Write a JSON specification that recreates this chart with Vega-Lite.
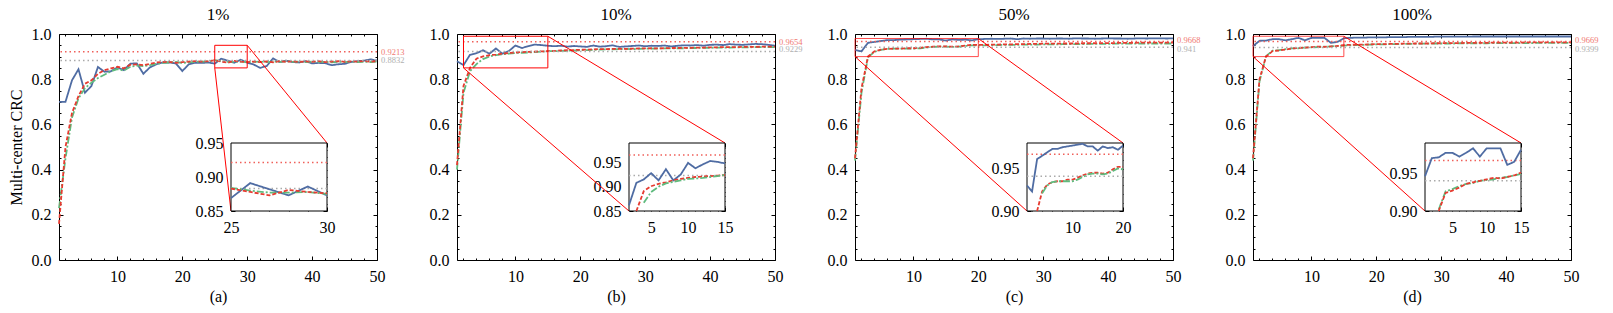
{
"$schema": "https://vega.github.io/schema/vega-lite/v6.json",
"padding": {"left": 7, "top": 5, "right": 4, "bottom": 4},
"spacing": 80,
"bounds": "flush",
"datasets": {
"lines": [
{"p":"a","x":1,"b":0.700,"r":0.160,"g":0.230},{"p":"a","x":2,"b":0.700,"r":0.500,"g":0.450},{"p":"a","x":3,"b":0.795,"r":0.650,"g":0.630},{"p":"a","x":4,"b":0.844,"r":0.725,"g":0.715},{"p":"a","x":5,"b":0.740,"r":0.780,"g":0.760},
{"p":"a","x":6,"b":0.770,"r":0.795,"g":0.785},{"p":"a","x":7,"b":0.854,"r":0.824,"g":0.805},{"p":"a","x":8,"b":0.833,"r":0.840,"g":0.820},{"p":"a","x":9,"b":0.835,"r":0.848,"g":0.835},{"p":"a","x":10,"b":0.852,"r":0.855,"g":0.845},
{"p":"a","x":11,"b":0.840,"r":0.848,"g":0.838},{"p":"a","x":12,"b":0.869,"r":0.864,"g":0.855},{"p":"a","x":13,"b":0.870,"r":0.866,"g":0.860},{"p":"a","x":14,"b":0.824,"r":0.862,"g":0.858},{"p":"a","x":15,"b":0.852,"r":0.868,"g":0.862},
{"p":"a","x":16,"b":0.866,"r":0.874,"g":0.868},{"p":"a","x":17,"b":0.874,"r":0.876,"g":0.872},{"p":"a","x":18,"b":0.874,"r":0.877,"g":0.874},{"p":"a","x":19,"b":0.870,"r":0.872,"g":0.876},{"p":"a","x":20,"b":0.836,"r":0.876,"g":0.872},
{"p":"a","x":21,"b":0.866,"r":0.878,"g":0.874},{"p":"a","x":22,"b":0.873,"r":0.880,"g":0.877},{"p":"a","x":23,"b":0.872,"r":0.878,"g":0.878},{"p":"a","x":24,"b":0.874,"r":0.880,"g":0.879},{"p":"a","x":25,"b":0.869,"r":0.883,"g":0.884},
{"p":"a","x":26,"b":0.891,"r":0.878,"g":0.880},{"p":"a","x":27,"b":0.882,"r":0.873,"g":0.877},{"p":"a","x":28,"b":0.873,"r":0.881,"g":0.877},{"p":"a","x":29,"b":0.886,"r":0.878,"g":0.878},{"p":"a","x":30,"b":0.873,"r":0.876,"g":0.875},
{"p":"a","x":31,"b":0.865,"r":0.878,"g":0.877},{"p":"a","x":32,"b":0.850,"r":0.876,"g":0.878},{"p":"a","x":33,"b":0.858,"r":0.879,"g":0.876},{"p":"a","x":34,"b":0.892,"r":0.875,"g":0.878},{"p":"a","x":35,"b":0.876,"r":0.880,"g":0.877},
{"p":"a","x":36,"b":0.882,"r":0.877,"g":0.879},{"p":"a","x":37,"b":0.876,"r":0.879,"g":0.877},{"p":"a","x":38,"b":0.874,"r":0.876,"g":0.878},{"p":"a","x":39,"b":0.880,"r":0.879,"g":0.876},{"p":"a","x":40,"b":0.870,"r":0.877,"g":0.878},
{"p":"a","x":41,"b":0.872,"r":0.880,"g":0.876},{"p":"a","x":42,"b":0.871,"r":0.876,"g":0.877},{"p":"a","x":43,"b":0.862,"r":0.878,"g":0.875},{"p":"a","x":44,"b":0.866,"r":0.880,"g":0.877},{"p":"a","x":45,"b":0.868,"r":0.877,"g":0.876},
{"p":"a","x":46,"b":0.876,"r":0.879,"g":0.878},{"p":"a","x":47,"b":0.880,"r":0.878,"g":0.876},{"p":"a","x":48,"b":0.882,"r":0.880,"g":0.877},{"p":"a","x":49,"b":0.888,"r":0.878,"g":0.876},{"p":"a","x":50,"b":0.882,"r":0.880,"g":0.878},
{"p":"b","x":1,"b":0.880,"r":0.420,"g":0.400},{"p":"b","x":2,"b":0.862,"r":0.770,"g":0.740},{"p":"b","x":3,"b":0.908,"r":0.850,"g":0.835},{"p":"b","x":4,"b":0.915,"r":0.891,"g":0.867},{"p":"b","x":5,"b":0.928,"r":0.901,"g":0.889},
{"p":"b","x":6,"b":0.913,"r":0.906,"g":0.900},{"p":"b","x":7,"b":0.936,"r":0.909,"g":0.907},{"p":"b","x":8,"b":0.913,"r":0.913,"g":0.910},{"p":"b","x":9,"b":0.925,"r":0.916,"g":0.913},{"p":"b","x":10,"b":0.949,"r":0.918,"g":0.916},
{"p":"b","x":11,"b":0.938,"r":0.920,"g":0.917},{"p":"b","x":12,"b":0.946,"r":0.921,"g":0.918},{"p":"b","x":13,"b":0.953,"r":0.922,"g":0.920},{"p":"b","x":14,"b":0.951,"r":0.923,"g":0.922},{"p":"b","x":15,"b":0.948,"r":0.924,"g":0.924},
{"p":"b","x":16,"b":0.946,"r":0.925,"g":0.924},{"p":"b","x":17,"b":0.948,"r":0.927,"g":0.925},{"p":"b","x":18,"b":0.944,"r":0.928,"g":0.926},{"p":"b","x":19,"b":0.947,"r":0.929,"g":0.927},{"p":"b","x":20,"b":0.945,"r":0.930,"g":0.928},
{"p":"b","x":21,"b":0.943,"r":0.931,"g":0.929},{"p":"b","x":22,"b":0.949,"r":0.932,"g":0.930},{"p":"b","x":23,"b":0.944,"r":0.933,"g":0.931},{"p":"b","x":24,"b":0.946,"r":0.933,"g":0.932},{"p":"b","x":25,"b":0.950,"r":0.934,"g":0.932},
{"p":"b","x":26,"b":0.943,"r":0.935,"g":0.933},{"p":"b","x":27,"b":0.945,"r":0.934,"g":0.934},{"p":"b","x":28,"b":0.947,"r":0.935,"g":0.933},{"p":"b","x":29,"b":0.949,"r":0.936,"g":0.934},{"p":"b","x":30,"b":0.946,"r":0.936,"g":0.935},
{"p":"b","x":31,"b":0.948,"r":0.937,"g":0.935},{"p":"b","x":32,"b":0.947,"r":0.936,"g":0.936},{"p":"b","x":33,"b":0.949,"r":0.937,"g":0.936},{"p":"b","x":34,"b":0.945,"r":0.938,"g":0.936},{"p":"b","x":35,"b":0.948,"r":0.938,"g":0.937},
{"p":"b","x":36,"b":0.950,"r":0.939,"g":0.937},{"p":"b","x":37,"b":0.949,"r":0.939,"g":0.938},{"p":"b","x":38,"b":0.951,"r":0.940,"g":0.938},{"p":"b","x":39,"b":0.948,"r":0.940,"g":0.939},{"p":"b","x":40,"b":0.952,"r":0.941,"g":0.939},
{"p":"b","x":41,"b":0.953,"r":0.941,"g":0.940},{"p":"b","x":42,"b":0.951,"r":0.942,"g":0.940},{"p":"b","x":43,"b":0.955,"r":0.942,"g":0.940},{"p":"b","x":44,"b":0.953,"r":0.942,"g":0.941},{"p":"b","x":45,"b":0.952,"r":0.943,"g":0.941},
{"p":"b","x":46,"b":0.954,"r":0.943,"g":0.941},{"p":"b","x":47,"b":0.956,"r":0.943,"g":0.942},{"p":"b","x":48,"b":0.955,"r":0.944,"g":0.942},{"p":"b","x":49,"b":0.952,"r":0.944,"g":0.942},{"p":"b","x":50,"b":0.948,"r":0.944,"g":0.942},
{"p":"c","x":1,"b":0.930,"r":0.450,"g":0.440},{"p":"c","x":2,"b":0.923,"r":0.760,"g":0.740},{"p":"c","x":3,"b":0.961,"r":0.900,"g":0.897},{"p":"c","x":4,"b":0.965,"r":0.923,"g":0.921},{"p":"c","x":5,"b":0.969,"r":0.931,"g":0.930},
{"p":"c","x":6,"b":0.973,"r":0.934,"g":0.934},{"p":"c","x":7,"b":0.973,"r":0.935,"g":0.935},{"p":"c","x":8,"b":0.975,"r":0.935,"g":0.935},{"p":"c","x":9,"b":0.976,"r":0.937,"g":0.935},{"p":"c","x":10,"b":0.977,"r":0.937,"g":0.935},
{"p":"c","x":11,"b":0.978,"r":0.939,"g":0.937},{"p":"c","x":12,"b":0.979,"r":0.942,"g":0.940},{"p":"c","x":13,"b":0.976,"r":0.944,"g":0.943},{"p":"c","x":14,"b":0.976,"r":0.945,"g":0.944},{"p":"c","x":15,"b":0.971,"r":0.945,"g":0.944},
{"p":"c","x":16,"b":0.976,"r":0.944,"g":0.943},{"p":"c","x":17,"b":0.974,"r":0.945,"g":0.944},{"p":"c","x":18,"b":0.975,"r":0.949,"g":0.947},{"p":"c","x":19,"b":0.972,"r":0.952,"g":0.950},{"p":"c","x":20,"b":0.977,"r":0.952,"g":0.949},
{"p":"c","x":21,"b":0.978,"r":0.952,"g":0.950},{"p":"c","x":22,"b":0.979,"r":0.953,"g":0.951},{"p":"c","x":23,"b":0.978,"r":0.953,"g":0.951},{"p":"c","x":24,"b":0.979,"r":0.954,"g":0.952},{"p":"c","x":25,"b":0.980,"r":0.954,"g":0.952},
{"p":"c","x":26,"b":0.977,"r":0.955,"g":0.952},{"p":"c","x":27,"b":0.980,"r":0.955,"g":0.953},{"p":"c","x":28,"b":0.979,"r":0.956,"g":0.953},{"p":"c","x":29,"b":0.980,"r":0.956,"g":0.953},{"p":"c","x":30,"b":0.980,"r":0.957,"g":0.954},
{"p":"c","x":31,"b":0.979,"r":0.957,"g":0.954},{"p":"c","x":32,"b":0.980,"r":0.957,"g":0.954},{"p":"c","x":33,"b":0.980,"r":0.958,"g":0.955},{"p":"c","x":34,"b":0.979,"r":0.958,"g":0.955},{"p":"c","x":35,"b":0.981,"r":0.958,"g":0.955},
{"p":"c","x":36,"b":0.980,"r":0.959,"g":0.955},{"p":"c","x":37,"b":0.980,"r":0.959,"g":0.956},{"p":"c","x":38,"b":0.979,"r":0.959,"g":0.956},{"p":"c","x":39,"b":0.980,"r":0.960,"g":0.956},{"p":"c","x":40,"b":0.981,"r":0.960,"g":0.956},
{"p":"c","x":41,"b":0.980,"r":0.960,"g":0.957},{"p":"c","x":42,"b":0.980,"r":0.961,"g":0.957},{"p":"c","x":43,"b":0.979,"r":0.961,"g":0.957},{"p":"c","x":44,"b":0.980,"r":0.961,"g":0.957},{"p":"c","x":45,"b":0.981,"r":0.962,"g":0.958},
{"p":"c","x":46,"b":0.980,"r":0.962,"g":0.958},{"p":"c","x":47,"b":0.981,"r":0.962,"g":0.958},{"p":"c","x":48,"b":0.981,"r":0.962,"g":0.958},{"p":"c","x":49,"b":0.980,"r":0.962,"g":0.958},{"p":"c","x":50,"b":0.981,"r":0.962,"g":0.958},
{"p":"d","x":1,"b":0.946,"r":0.450,"g":0.440},{"p":"d","x":2,"b":0.970,"r":0.800,"g":0.790},{"p":"d","x":3,"b":0.971,"r":0.900,"g":0.902},{"p":"d","x":4,"b":0.977,"r":0.924,"g":0.926},{"p":"d","x":5,"b":0.977,"r":0.927,"g":0.929},
{"p":"d","x":6,"b":0.972,"r":0.931,"g":0.933},{"p":"d","x":7,"b":0.977,"r":0.936,"g":0.936},{"p":"d","x":8,"b":0.983,"r":0.938,"g":0.937},{"p":"d","x":9,"b":0.972,"r":0.940,"g":0.940},{"p":"d","x":10,"b":0.983,"r":0.942,"g":0.941},
{"p":"d","x":11,"b":0.983,"r":0.944,"g":0.942},{"p":"d","x":12,"b":0.983,"r":0.943,"g":0.944},{"p":"d","x":13,"b":0.961,"r":0.945,"g":0.945},{"p":"d","x":14,"b":0.965,"r":0.947,"g":0.947},{"p":"d","x":15,"b":0.981,"r":0.951,"g":0.949},
{"p":"d","x":16,"b":0.983,"r":0.952,"g":0.950},{"p":"d","x":17,"b":0.984,"r":0.953,"g":0.951},{"p":"d","x":18,"b":0.984,"r":0.953,"g":0.952},{"p":"d","x":19,"b":0.985,"r":0.954,"g":0.953},{"p":"d","x":20,"b":0.985,"r":0.955,"g":0.954},
{"p":"d","x":21,"b":0.985,"r":0.955,"g":0.954},{"p":"d","x":22,"b":0.986,"r":0.956,"g":0.955},{"p":"d","x":23,"b":0.986,"r":0.956,"g":0.955},{"p":"d","x":24,"b":0.986,"r":0.957,"g":0.956},{"p":"d","x":25,"b":0.987,"r":0.957,"g":0.956},
{"p":"d","x":26,"b":0.987,"r":0.958,"g":0.957},{"p":"d","x":27,"b":0.987,"r":0.958,"g":0.957},{"p":"d","x":28,"b":0.987,"r":0.958,"g":0.957},{"p":"d","x":29,"b":0.988,"r":0.959,"g":0.958},{"p":"d","x":30,"b":0.988,"r":0.959,"g":0.958},
{"p":"d","x":31,"b":0.988,"r":0.960,"g":0.958},{"p":"d","x":32,"b":0.988,"r":0.960,"g":0.958},{"p":"d","x":33,"b":0.988,"r":0.960,"g":0.959},{"p":"d","x":34,"b":0.988,"r":0.961,"g":0.959},{"p":"d","x":35,"b":0.989,"r":0.961,"g":0.959},
{"p":"d","x":36,"b":0.989,"r":0.961,"g":0.959},{"p":"d","x":37,"b":0.989,"r":0.961,"g":0.959},{"p":"d","x":38,"b":0.989,"r":0.962,"g":0.960},{"p":"d","x":39,"b":0.989,"r":0.962,"g":0.960},{"p":"d","x":40,"b":0.989,"r":0.962,"g":0.960},
{"p":"d","x":41,"b":0.989,"r":0.962,"g":0.960},{"p":"d","x":42,"b":0.989,"r":0.962,"g":0.960},{"p":"d","x":43,"b":0.989,"r":0.963,"g":0.960},{"p":"d","x":44,"b":0.989,"r":0.963,"g":0.960},{"p":"d","x":45,"b":0.989,"r":0.963,"g":0.961},
{"p":"d","x":46,"b":0.989,"r":0.963,"g":0.961},{"p":"d","x":47,"b":0.989,"r":0.963,"g":0.961},{"p":"d","x":48,"b":0.989,"r":0.963,"g":0.961},{"p":"d","x":49,"b":0.989,"r":0.963,"g":0.961},{"p":"d","x":50,"b":0.989,"r":0.963,"g":0.961}
],
"refs": [
{"p":"a","k":"r","v":0.9213,"label":"0.9213"},{"p":"a","k":"g","v":0.8832,"label":"0.8832"},
{"p":"b","k":"r","v":0.9654,"label":"0.9654"},{"p":"b","k":"g","v":0.9229,"label":"0.9229"},
{"p":"c","k":"r","v":0.9668,"label":"0.9668"},{"p":"c","k":"g","v":0.941,"label":"0.941"},
{"p":"d","k":"r","v":0.9669,"label":"0.9669"},{"p":"d","k":"g","v":0.9399,"label":"0.9399"}
],
"zoom": [
{"p":"a","x0":25,"x1":30,"y0":0.85,"y1":0.95},
{"p":"b","x0":2,"x1":15,"y0":0.85,"y1":0.99},
{"p":"c","x0":1,"x1":20,"y0":0.9,"y1":0.98},
{"p":"d","x0":1,"x1":15,"y0":0.9,"y1":0.99}
],
"conn": [
{"p":"a","x":30,"y":0.95,"x2":42.3,"y2":0.5177},{"p":"a","x":25,"y":0.85,"x2":27.5,"y2":0.2168},
{"p":"b","x":15,"y":0.99,"x2":42.3,"y2":0.5177},{"p":"b","x":2,"y":0.85,"x2":27.5,"y2":0.2168},
{"p":"c","x":20,"y":0.98,"x2":42.3,"y2":0.5177},{"p":"c","x":1,"y":0.9,"x2":27.5,"y2":0.2168},
{"p":"d","x":15,"y":0.99,"x2":42.3,"y2":0.5177},{"p":"d","x":1,"y":0.9,"x2":27.5,"y2":0.2168}
]
},
"hconcat": [
{
"width": 318, "height": 226, "title": "1%",
"resolve": {"scale": {"x": "independent", "y": "independent"}, "axis": {"x": "independent", "y": "independent"}},
"layer": [
{"layer": [
{"data": {"name": "lines"}, "transform": [{"filter": "datum.p=='a'"}, {"fold": ["b", "g", "r"], "as": ["s", "v"]}],
 "mark": {"type": "line", "strokeWidth": 1.8},
 "encoding": {
  "x": {"field": "x", "type": "quantitative", "scale": {"domain": [1, 50], "nice": false, "zero": false}, "axis": {"orient": "bottom", "values": [10, 20, 30, 40, 50], "format": "d", "tickSize": -4, "labels": true, "labelPadding": 12, "title": "(a)", "titlePadding": 4}},
  "y": {"field": "v", "type": "quantitative", "scale": {"domain": [0, 1], "nice": false, "zero": false}, "axis": {"orient": "left", "values": [0, 0.2, 0.4, 0.6, 0.8, 1], "format": ".1f", "tickSize": -4, "labels": true, "labelPadding": 12, "title": "Multi-center CRC", "titleFontSize": 16, "titlePadding": 7}},
  "color": {"field": "s", "type": "nominal", "scale": {"domain": ["b", "g", "r"], "range": ["#4f6ca3", "#5fbb7e", "#e63b30"]}, "legend": null},
  "strokeDash": {"field": "s", "type": "nominal", "scale": {"domain": ["b", "g", "r"], "range": [[1, 0], [7, 2, 2, 2], [4, 2]]}, "legend": null}}},
{"data": {"name": "refs"}, "transform": [{"filter": "datum.p=='a'"}], "mark": {"type": "rule", "strokeWidth": 1.5, "strokeDash": [1.5, 3]},
 "encoding": {"y": {"field": "v", "type": "quantitative"}, "color": {"condition": {"test": "datum.k=='r'", "value": "#f0605a"}, "value": "#aaaaaa"}}},
{"data": {"name": "refs"}, "transform": [{"filter": "datum.p=='a' && datum.k=='r'"}], "mark": {"type": "text", "align": "left", "baseline": "middle", "dx": 4, "dy": 0, "fontSize": 8.5, "color": "#f07a72"},
 "encoding": {"x": {"datum": 50, "type": "quantitative"}, "y": {"field": "v", "type": "quantitative"}, "text": {"field": "label"}}},
{"data": {"name": "refs"}, "transform": [{"filter": "datum.p=='a' && datum.k=='g'"}], "mark": {"type": "text", "align": "left", "baseline": "middle", "dx": 4, "dy": 0, "fontSize": 8.5, "color": "#b0b0b0"},
 "encoding": {"x": {"datum": 50, "type": "quantitative"}, "y": {"field": "v", "type": "quantitative"}, "text": {"field": "label"}}},
{"data": {"name": "zoom"}, "transform": [{"filter": "datum.p=='a'"}], "mark": {"type": "rect", "fillOpacity": 0, "stroke": "#ff0000", "strokeWidth": 1},
 "encoding": {"x": {"field": "x0", "type": "quantitative"}, "x2": {"field": "x1"}, "y": {"field": "y0", "type": "quantitative"}, "y2": {"field": "y1"}}},
{"data": {"name": "conn"}, "transform": [{"filter": "datum.p=='a'"}], "mark": {"type": "rule", "stroke": "#ff0000", "strokeWidth": 1},
 "encoding": {"x": {"field": "x", "type": "quantitative"}, "y": {"field": "y", "type": "quantitative"}, "x2": {"field": "x2"}, "y2": {"field": "y2"}}}
]},
{"data": {"name": "zoom"}, "transform": [{"filter": "datum.p=='a'"}], "mark": {"type": "point", "opacity": 0},
 "encoding": {"x": {"field": "x0", "type": "quantitative", "scale": {"domain": [1, 50], "nice": false, "zero": false}, "axis": {"orient": "bottom", "values": [2,4,6,8,12,14,16,18,22,24,26,28,32,34,36,38,42,44,46,48], "tickSize": -2, "title": null}},
  "y": {"field": "y0", "type": "quantitative", "scale": {"domain": [0, 1], "nice": false, "zero": false}, "axis": {"orient": "left", "values": [0.05,0.1,0.15,0.25,0.3,0.35,0.45,0.5,0.55,0.65,0.7,0.75,0.85,0.9,0.95], "tickSize": -2, "title": null}}}},
{"data": {"name": "zoom"}, "transform": [{"filter": "datum.p=='a'"}], "mark": {"type": "point", "opacity": 0},
 "encoding": {"x": {"field": "x0", "type": "quantitative", "scale": {"domain": [1, 50], "nice": false, "zero": false}, "axis": {"orient": "top", "values": [10,20,30,40,50], "tickSize": -4, "title": null}},
  "y": {"field": "y0", "type": "quantitative", "scale": {"domain": [0, 1], "nice": false, "zero": false}, "axis": {"orient": "right", "values": [0,0.2,0.4,0.6,0.8,1], "tickSize": -4, "title": null}}}},
{"data": {"name": "zoom"}, "transform": [{"filter": "datum.p=='a'"}], "mark": {"type": "point", "opacity": 0},
 "encoding": {"x": {"field": "x0", "type": "quantitative", "scale": {"domain": [1, 50], "nice": false, "zero": false}, "axis": {"orient": "top", "values": [2,4,6,8,12,14,16,18,22,24,26,28,32,34,36,38,42,44,46,48], "tickSize": -2, "title": null}},
  "y": {"field": "y0", "type": "quantitative", "scale": {"domain": [0, 1], "nice": false, "zero": false}, "axis": {"orient": "right", "values": [0.05,0.1,0.15,0.25,0.3,0.35,0.45,0.5,0.55,0.65,0.7,0.75,0.85,0.9,0.95], "tickSize": -2, "title": null}}}},
{"layer": [
{"data": {"name": "zoom"}, "transform": [{"filter": "datum.p=='a'"}], "mark": {"type": "rect", "fill": "white", "stroke": "black", "strokeWidth": 1},
 "encoding": {"x": {"field": "x0", "type": "quantitative", "scale": {"domain": [25, 30], "range": [172, 268], "nice": false, "zero": false}, "axis": {"orient": "bottom", "offset": -49, "values": [25, 30], "format": "d", "tickSize": -4, "labels": true, "labelPadding": 12, "title": null}},
  "x2": {"field": "x1"},
  "y": {"field": "y0", "type": "quantitative", "scale": {"domain": [0.85, 0.95], "range": [177, 109], "nice": false, "zero": false}, "axis": {"orient": "left", "offset": -172, "values": [0.85, 0.9, 0.95], "format": ".2f", "tickSize": -4, "labels": true, "labelPadding": 12, "title": null}},
  "y2": {"field": "y1"}}},
{"data": {"name": "refs"}, "transform": [{"filter": "datum.p=='a'"}], "mark": {"type": "rule", "strokeWidth": 1.5, "strokeDash": [1.5, 3]},
 "encoding": {"x": {"datum": 25, "type": "quantitative"}, "x2": {"datum": 30}, "y": {"field": "v", "type": "quantitative"}, "color": {"condition": {"test": "datum.k=='r'", "value": "#f0605a"}, "value": "#aaaaaa"}}},
{"data": {"name": "lines"}, "transform": [{"filter": "datum.p=='a'"}, {"fold": ["b", "g", "r"], "as": ["s", "v"]}, {"filter": "datum.x>=25 && datum.x<=30 && datum.v>=0.85 && datum.v<=0.95"}],
 "mark": {"type": "line", "strokeWidth": 1.8},
 "encoding": {"x": {"field": "x", "type": "quantitative"}, "y": {"field": "v", "type": "quantitative"},
  "color": {"field": "s", "type": "nominal", "legend": null}, "strokeDash": {"field": "s", "type": "nominal", "legend": null}}}
]},
{"data": {"name": "zoom"}, "transform": [{"filter": "datum.p=='a'"}], "mark": {"type": "point", "opacity": 0},
 "encoding": {"x": {"field": "x0", "type": "quantitative", "scale": {"domain": [25, 30], "range": [172, 268], "nice": false, "zero": false}, "axis": {"orient": "bottom", "offset": -49, "values": [26,27,28,29], "tickSize": -2, "title": null}},
  "y": {"field": "y0", "type": "quantitative", "scale": {"domain": [0.85, 0.95], "range": [177, 109], "nice": false, "zero": false}, "axis": {"orient": "left", "offset": -172, "values": [0.86,0.87,0.88,0.89,0.91,0.92,0.93,0.94], "tickSize": -2, "title": null}}}},
{"data": {"name": "zoom"}, "transform": [{"filter": "datum.p=='a'"}], "mark": {"type": "point", "opacity": 0},
 "encoding": {"x": {"field": "x0", "type": "quantitative", "scale": {"domain": [25, 30], "range": [172, 268], "nice": false, "zero": false}, "axis": {"orient": "top", "offset": -109, "values": [25,30], "tickSize": -4, "title": null}},
  "y": {"field": "y0", "type": "quantitative", "scale": {"domain": [0.85, 0.95], "range": [177, 109], "nice": false, "zero": false}, "axis": {"orient": "right", "offset": -50, "values": [0.85,0.9,0.95], "tickSize": -4, "title": null}}}},
{"data": {"name": "zoom"}, "transform": [{"filter": "datum.p=='a'"}], "mark": {"type": "point", "opacity": 0},
 "encoding": {"x": {"field": "x0", "type": "quantitative", "scale": {"domain": [25, 30], "range": [172, 268], "nice": false, "zero": false}, "axis": {"orient": "top", "offset": -109, "values": [26,27,28,29], "tickSize": -2, "title": null}},
  "y": {"field": "y0", "type": "quantitative", "scale": {"domain": [0.85, 0.95], "range": [177, 109], "nice": false, "zero": false}, "axis": {"orient": "right", "offset": -50, "values": [0.86,0.87,0.88,0.89,0.91,0.92,0.93,0.94], "tickSize": -2, "title": null}}}}
]
},
{
"width": 318, "height": 226, "title": "10%",
"resolve": {"scale": {"x": "independent", "y": "independent"}, "axis": {"x": "independent", "y": "independent"}},
"layer": [
{"layer": [
{"data": {"name": "lines"}, "transform": [{"filter": "datum.p=='b'"}, {"fold": ["b", "g", "r"], "as": ["s", "v"]}],
 "mark": {"type": "line", "strokeWidth": 1.8},
 "encoding": {
  "x": {"field": "x", "type": "quantitative", "scale": {"domain": [1, 50], "nice": false, "zero": false}, "axis": {"orient": "bottom", "values": [10, 20, 30, 40, 50], "format": "d", "tickSize": -4, "labels": true, "labelPadding": 12, "title": "(b)", "titlePadding": 4}},
  "y": {"field": "v", "type": "quantitative", "scale": {"domain": [0, 1], "nice": false, "zero": false}, "axis": {"orient": "left", "values": [0, 0.2, 0.4, 0.6, 0.8, 1], "format": ".1f", "tickSize": -4, "labels": true, "labelPadding": 12, "title": null}},
  "color": {"field": "s", "type": "nominal", "legend": null},
  "strokeDash": {"field": "s", "type": "nominal", "legend": null}}},
{"data": {"name": "refs"}, "transform": [{"filter": "datum.p=='b'"}], "mark": {"type": "rule", "strokeWidth": 1.5, "strokeDash": [1.5, 3]},
 "encoding": {"y": {"field": "v", "type": "quantitative"}, "color": {"condition": {"test": "datum.k=='r'", "value": "#f0605a"}, "value": "#aaaaaa"}}},
{"data": {"name": "refs"}, "transform": [{"filter": "datum.p=='b' && datum.k=='r'"}], "mark": {"type": "text", "align": "left", "baseline": "middle", "dx": 4, "dy": 0, "fontSize": 8.5, "color": "#f07a72"},
 "encoding": {"x": {"datum": 50, "type": "quantitative"}, "y": {"field": "v", "type": "quantitative"}, "text": {"field": "label"}}},
{"data": {"name": "refs"}, "transform": [{"filter": "datum.p=='b' && datum.k=='g'"}], "mark": {"type": "text", "align": "left", "baseline": "middle", "dx": 4, "dy": -2, "fontSize": 8.5, "color": "#b0b0b0"},
 "encoding": {"x": {"datum": 50, "type": "quantitative"}, "y": {"field": "v", "type": "quantitative"}, "text": {"field": "label"}}},
{"data": {"name": "zoom"}, "transform": [{"filter": "datum.p=='b'"}], "mark": {"type": "rect", "fillOpacity": 0, "stroke": "#ff0000", "strokeWidth": 1},
 "encoding": {"x": {"field": "x0", "type": "quantitative"}, "x2": {"field": "x1"}, "y": {"field": "y0", "type": "quantitative"}, "y2": {"field": "y1"}}},
{"data": {"name": "conn"}, "transform": [{"filter": "datum.p=='b'"}], "mark": {"type": "rule", "stroke": "#ff0000", "strokeWidth": 1},
 "encoding": {"x": {"field": "x", "type": "quantitative"}, "y": {"field": "y", "type": "quantitative"}, "x2": {"field": "x2"}, "y2": {"field": "y2"}}}
]},
{"data": {"name": "zoom"}, "transform": [{"filter": "datum.p=='b'"}], "mark": {"type": "point", "opacity": 0},
 "encoding": {"x": {"field": "x0", "type": "quantitative", "scale": {"domain": [1, 50], "nice": false, "zero": false}, "axis": {"orient": "bottom", "values": [2,4,6,8,12,14,16,18,22,24,26,28,32,34,36,38,42,44,46,48], "tickSize": -2, "title": null}},
  "y": {"field": "y0", "type": "quantitative", "scale": {"domain": [0, 1], "nice": false, "zero": false}, "axis": {"orient": "left", "values": [0.05,0.1,0.15,0.25,0.3,0.35,0.45,0.5,0.55,0.65,0.7,0.75,0.85,0.9,0.95], "tickSize": -2, "title": null}}}},
{"data": {"name": "zoom"}, "transform": [{"filter": "datum.p=='b'"}], "mark": {"type": "point", "opacity": 0},
 "encoding": {"x": {"field": "x0", "type": "quantitative", "scale": {"domain": [1, 50], "nice": false, "zero": false}, "axis": {"orient": "top", "values": [10,20,30,40,50], "tickSize": -4, "title": null}},
  "y": {"field": "y0", "type": "quantitative", "scale": {"domain": [0, 1], "nice": false, "zero": false}, "axis": {"orient": "right", "values": [0,0.2,0.4,0.6,0.8,1], "tickSize": -4, "title": null}}}},
{"data": {"name": "zoom"}, "transform": [{"filter": "datum.p=='b'"}], "mark": {"type": "point", "opacity": 0},
 "encoding": {"x": {"field": "x0", "type": "quantitative", "scale": {"domain": [1, 50], "nice": false, "zero": false}, "axis": {"orient": "top", "values": [2,4,6,8,12,14,16,18,22,24,26,28,32,34,36,38,42,44,46,48], "tickSize": -2, "title": null}},
  "y": {"field": "y0", "type": "quantitative", "scale": {"domain": [0, 1], "nice": false, "zero": false}, "axis": {"orient": "right", "values": [0.05,0.1,0.15,0.25,0.3,0.35,0.45,0.5,0.55,0.65,0.7,0.75,0.85,0.9,0.95], "tickSize": -2, "title": null}}}},
{"layer": [
{"data": {"name": "zoom"}, "transform": [{"filter": "datum.p=='b'"}], "mark": {"type": "rect", "fill": "white", "stroke": "black", "strokeWidth": 1},
 "encoding": {"x": {"field": "x0", "type": "quantitative", "scale": {"domain": [2, 15], "range": [172, 268], "nice": false, "zero": false}, "axis": {"orient": "bottom", "offset": -49, "values": [5, 10, 15], "format": "d", "tickSize": -4, "labels": true, "labelPadding": 12, "title": null}},
  "x2": {"field": "x1"},
  "y": {"field": "y0", "type": "quantitative", "scale": {"domain": [0.85, 0.99], "range": [177, 109], "nice": false, "zero": false}, "axis": {"orient": "left", "offset": -172, "values": [0.85, 0.9, 0.95], "format": ".2f", "tickSize": -4, "labels": true, "labelPadding": 12, "title": null}},
  "y2": {"field": "y1"}}},
{"data": {"name": "refs"}, "transform": [{"filter": "datum.p=='b'"}], "mark": {"type": "rule", "strokeWidth": 1.5, "strokeDash": [1.5, 3]},
 "encoding": {"x": {"datum": 2, "type": "quantitative"}, "x2": {"datum": 15}, "y": {"field": "v", "type": "quantitative"}, "color": {"condition": {"test": "datum.k=='r'", "value": "#f0605a"}, "value": "#aaaaaa"}}},
{"data": {"name": "lines"}, "transform": [{"filter": "datum.p=='b'"}, {"fold": ["b", "g", "r"], "as": ["s", "v"]}, {"filter": "datum.x>=2 && datum.x<=15 && datum.v>=0.85 && datum.v<=0.99"}],
 "mark": {"type": "line", "strokeWidth": 1.8},
 "encoding": {"x": {"field": "x", "type": "quantitative"}, "y": {"field": "v", "type": "quantitative"},
  "color": {"field": "s", "type": "nominal", "legend": null}, "strokeDash": {"field": "s", "type": "nominal", "legend": null}}}
]},
{"data": {"name": "zoom"}, "transform": [{"filter": "datum.p=='b'"}], "mark": {"type": "point", "opacity": 0},
 "encoding": {"x": {"field": "x0", "type": "quantitative", "scale": {"domain": [2, 15], "range": [172, 268], "nice": false, "zero": false}, "axis": {"orient": "bottom", "offset": -49, "values": [3,4,6,7,8,9,11,12,13,14], "tickSize": -2, "title": null}},
  "y": {"field": "y0", "type": "quantitative", "scale": {"domain": [0.85, 0.99], "range": [177, 109], "nice": false, "zero": false}, "axis": {"orient": "left", "offset": -172, "values": [0.86,0.87,0.88,0.89,0.91,0.92,0.93,0.94,0.96,0.97,0.98], "tickSize": -2, "title": null}}}},
{"data": {"name": "zoom"}, "transform": [{"filter": "datum.p=='b'"}], "mark": {"type": "point", "opacity": 0},
 "encoding": {"x": {"field": "x0", "type": "quantitative", "scale": {"domain": [2, 15], "range": [172, 268], "nice": false, "zero": false}, "axis": {"orient": "top", "offset": -109, "values": [5,10,15], "tickSize": -4, "title": null}},
  "y": {"field": "y0", "type": "quantitative", "scale": {"domain": [0.85, 0.99], "range": [177, 109], "nice": false, "zero": false}, "axis": {"orient": "right", "offset": -50, "values": [0.85,0.9,0.95], "tickSize": -4, "title": null}}}},
{"data": {"name": "zoom"}, "transform": [{"filter": "datum.p=='b'"}], "mark": {"type": "point", "opacity": 0},
 "encoding": {"x": {"field": "x0", "type": "quantitative", "scale": {"domain": [2, 15], "range": [172, 268], "nice": false, "zero": false}, "axis": {"orient": "top", "offset": -109, "values": [3,4,6,7,8,9,11,12,13,14], "tickSize": -2, "title": null}},
  "y": {"field": "y0", "type": "quantitative", "scale": {"domain": [0.85, 0.99], "range": [177, 109], "nice": false, "zero": false}, "axis": {"orient": "right", "offset": -50, "values": [0.86,0.87,0.88,0.89,0.91,0.92,0.93,0.94,0.96,0.97,0.98], "tickSize": -2, "title": null}}}}
]
},
{
"width": 318, "height": 226, "title": "50%",
"resolve": {"scale": {"x": "independent", "y": "independent"}, "axis": {"x": "independent", "y": "independent"}},
"layer": [
{"layer": [
{"data": {"name": "lines"}, "transform": [{"filter": "datum.p=='c'"}, {"fold": ["b", "g", "r"], "as": ["s", "v"]}],
 "mark": {"type": "line", "strokeWidth": 1.8},
 "encoding": {
  "x": {"field": "x", "type": "quantitative", "scale": {"domain": [1, 50], "nice": false, "zero": false}, "axis": {"orient": "bottom", "values": [10, 20, 30, 40, 50], "format": "d", "tickSize": -4, "labels": true, "labelPadding": 12, "title": "(c)", "titlePadding": 4}},
  "y": {"field": "v", "type": "quantitative", "scale": {"domain": [0, 1], "nice": false, "zero": false}, "axis": {"orient": "left", "values": [0, 0.2, 0.4, 0.6, 0.8, 1], "format": ".1f", "tickSize": -4, "labels": true, "labelPadding": 12, "title": null}},
  "color": {"field": "s", "type": "nominal", "legend": null},
  "strokeDash": {"field": "s", "type": "nominal", "legend": null}}},
{"data": {"name": "refs"}, "transform": [{"filter": "datum.p=='c'"}], "mark": {"type": "rule", "strokeWidth": 1.5, "strokeDash": [1.5, 3]},
 "encoding": {"y": {"field": "v", "type": "quantitative"}, "color": {"condition": {"test": "datum.k=='r'", "value": "#f0605a"}, "value": "#aaaaaa"}}},
{"data": {"name": "refs"}, "transform": [{"filter": "datum.p=='c' && datum.k=='r'"}], "mark": {"type": "text", "align": "left", "baseline": "middle", "dx": 4, "dy": -1.5, "fontSize": 8.5, "color": "#f07a72"},
 "encoding": {"x": {"datum": 50, "type": "quantitative"}, "y": {"field": "v", "type": "quantitative"}, "text": {"field": "label"}}},
{"data": {"name": "refs"}, "transform": [{"filter": "datum.p=='c' && datum.k=='g'"}], "mark": {"type": "text", "align": "left", "baseline": "middle", "dx": 4, "dy": 1.5, "fontSize": 8.5, "color": "#b0b0b0"},
 "encoding": {"x": {"datum": 50, "type": "quantitative"}, "y": {"field": "v", "type": "quantitative"}, "text": {"field": "label"}}},
{"data": {"name": "zoom"}, "transform": [{"filter": "datum.p=='c'"}], "mark": {"type": "rect", "fillOpacity": 0, "stroke": "#ff0000", "strokeOpacity": 0.7, "strokeWidth": 1},
 "encoding": {"x": {"field": "x0", "type": "quantitative"}, "x2": {"field": "x1"}, "y": {"field": "y0", "type": "quantitative"}, "y2": {"field": "y1"}}},
{"data": {"name": "conn"}, "transform": [{"filter": "datum.p=='c'"}], "mark": {"type": "rule", "stroke": "#ff0000", "strokeWidth": 1},
 "encoding": {"x": {"field": "x", "type": "quantitative"}, "y": {"field": "y", "type": "quantitative"}, "x2": {"field": "x2"}, "y2": {"field": "y2"}}}
]},
{"data": {"name": "zoom"}, "transform": [{"filter": "datum.p=='c'"}], "mark": {"type": "point", "opacity": 0},
 "encoding": {"x": {"field": "x0", "type": "quantitative", "scale": {"domain": [1, 50], "nice": false, "zero": false}, "axis": {"orient": "bottom", "values": [2,4,6,8,12,14,16,18,22,24,26,28,32,34,36,38,42,44,46,48], "tickSize": -2, "title": null}},
  "y": {"field": "y0", "type": "quantitative", "scale": {"domain": [0, 1], "nice": false, "zero": false}, "axis": {"orient": "left", "values": [0.05,0.1,0.15,0.25,0.3,0.35,0.45,0.5,0.55,0.65,0.7,0.75,0.85,0.9,0.95], "tickSize": -2, "title": null}}}},
{"data": {"name": "zoom"}, "transform": [{"filter": "datum.p=='c'"}], "mark": {"type": "point", "opacity": 0},
 "encoding": {"x": {"field": "x0", "type": "quantitative", "scale": {"domain": [1, 50], "nice": false, "zero": false}, "axis": {"orient": "top", "values": [10,20,30,40,50], "tickSize": -4, "title": null}},
  "y": {"field": "y0", "type": "quantitative", "scale": {"domain": [0, 1], "nice": false, "zero": false}, "axis": {"orient": "right", "values": [0,0.2,0.4,0.6,0.8,1], "tickSize": -4, "title": null}}}},
{"data": {"name": "zoom"}, "transform": [{"filter": "datum.p=='c'"}], "mark": {"type": "point", "opacity": 0},
 "encoding": {"x": {"field": "x0", "type": "quantitative", "scale": {"domain": [1, 50], "nice": false, "zero": false}, "axis": {"orient": "top", "values": [2,4,6,8,12,14,16,18,22,24,26,28,32,34,36,38,42,44,46,48], "tickSize": -2, "title": null}},
  "y": {"field": "y0", "type": "quantitative", "scale": {"domain": [0, 1], "nice": false, "zero": false}, "axis": {"orient": "right", "values": [0.05,0.1,0.15,0.25,0.3,0.35,0.45,0.5,0.55,0.65,0.7,0.75,0.85,0.9,0.95], "tickSize": -2, "title": null}}}},
{"layer": [
{"data": {"name": "zoom"}, "transform": [{"filter": "datum.p=='c'"}], "mark": {"type": "rect", "fill": "white", "stroke": "black", "strokeWidth": 1},
 "encoding": {"x": {"field": "x0", "type": "quantitative", "scale": {"domain": [1, 20], "range": [172, 268], "nice": false, "zero": false}, "axis": {"orient": "bottom", "offset": -49, "values": [10, 20], "format": "d", "tickSize": -4, "labels": true, "labelPadding": 12, "title": null}},
  "x2": {"field": "x1"},
  "y": {"field": "y0", "type": "quantitative", "scale": {"domain": [0.9, 0.98], "range": [177, 109], "nice": false, "zero": false}, "axis": {"orient": "left", "offset": -172, "values": [0.9, 0.95], "format": ".2f", "tickSize": -4, "labels": true, "labelPadding": 12, "title": null}},
  "y2": {"field": "y1"}}},
{"data": {"name": "refs"}, "transform": [{"filter": "datum.p=='c'"}], "mark": {"type": "rule", "strokeWidth": 1.5, "strokeDash": [1.5, 3]},
 "encoding": {"x": {"datum": 1, "type": "quantitative"}, "x2": {"datum": 20}, "y": {"field": "v", "type": "quantitative"}, "color": {"condition": {"test": "datum.k=='r'", "value": "#f0605a"}, "value": "#aaaaaa"}}},
{"data": {"name": "lines"}, "transform": [{"filter": "datum.p=='c'"}, {"fold": ["b", "g", "r"], "as": ["s", "v"]}, {"filter": "datum.x>=1 && datum.x<=20 && datum.v>=0.9 && datum.v<=0.98"}],
 "mark": {"type": "line", "strokeWidth": 1.8},
 "encoding": {"x": {"field": "x", "type": "quantitative"}, "y": {"field": "v", "type": "quantitative"},
  "color": {"field": "s", "type": "nominal", "legend": null}, "strokeDash": {"field": "s", "type": "nominal", "legend": null}}}
]},
{"data": {"name": "zoom"}, "transform": [{"filter": "datum.p=='c'"}], "mark": {"type": "point", "opacity": 0},
 "encoding": {"x": {"field": "x0", "type": "quantitative", "scale": {"domain": [1, 20], "range": [172, 268], "nice": false, "zero": false}, "axis": {"orient": "bottom", "offset": -49, "values": [2,4,6,8,12,14,16,18], "tickSize": -2, "title": null}},
  "y": {"field": "y0", "type": "quantitative", "scale": {"domain": [0.9, 0.98], "range": [177, 109], "nice": false, "zero": false}, "axis": {"orient": "left", "offset": -172, "values": [0.91,0.92,0.93,0.94,0.96,0.97], "tickSize": -2, "title": null}}}},
{"data": {"name": "zoom"}, "transform": [{"filter": "datum.p=='c'"}], "mark": {"type": "point", "opacity": 0},
 "encoding": {"x": {"field": "x0", "type": "quantitative", "scale": {"domain": [1, 20], "range": [172, 268], "nice": false, "zero": false}, "axis": {"orient": "top", "offset": -109, "values": [10,20], "tickSize": -4, "title": null}},
  "y": {"field": "y0", "type": "quantitative", "scale": {"domain": [0.9, 0.98], "range": [177, 109], "nice": false, "zero": false}, "axis": {"orient": "right", "offset": -50, "values": [0.9,0.95], "tickSize": -4, "title": null}}}},
{"data": {"name": "zoom"}, "transform": [{"filter": "datum.p=='c'"}], "mark": {"type": "point", "opacity": 0},
 "encoding": {"x": {"field": "x0", "type": "quantitative", "scale": {"domain": [1, 20], "range": [172, 268], "nice": false, "zero": false}, "axis": {"orient": "top", "offset": -109, "values": [2,4,6,8,12,14,16,18], "tickSize": -2, "title": null}},
  "y": {"field": "y0", "type": "quantitative", "scale": {"domain": [0.9, 0.98], "range": [177, 109], "nice": false, "zero": false}, "axis": {"orient": "right", "offset": -50, "values": [0.91,0.92,0.93,0.94,0.96,0.97], "tickSize": -2, "title": null}}}}
]
},
{
"width": 318, "height": 226, "title": "100%",
"resolve": {"scale": {"x": "independent", "y": "independent"}, "axis": {"x": "independent", "y": "independent"}},
"layer": [
{"layer": [
{"data": {"name": "lines"}, "transform": [{"filter": "datum.p=='d'"}, {"fold": ["b", "g", "r"], "as": ["s", "v"]}],
 "mark": {"type": "line", "strokeWidth": 1.8},
 "encoding": {
  "x": {"field": "x", "type": "quantitative", "scale": {"domain": [1, 50], "nice": false, "zero": false}, "axis": {"orient": "bottom", "values": [10, 20, 30, 40, 50], "format": "d", "tickSize": -4, "labels": true, "labelPadding": 12, "title": "(d)", "titlePadding": 4}},
  "y": {"field": "v", "type": "quantitative", "scale": {"domain": [0, 1], "nice": false, "zero": false}, "axis": {"orient": "left", "values": [0, 0.2, 0.4, 0.6, 0.8, 1], "format": ".1f", "tickSize": -4, "labels": true, "labelPadding": 12, "title": null}},
  "color": {"field": "s", "type": "nominal", "legend": null},
  "strokeDash": {"field": "s", "type": "nominal", "legend": null}}},
{"data": {"name": "refs"}, "transform": [{"filter": "datum.p=='d'"}], "mark": {"type": "rule", "strokeWidth": 1.5, "strokeDash": [1.5, 3]},
 "encoding": {"y": {"field": "v", "type": "quantitative"}, "color": {"condition": {"test": "datum.k=='r'", "value": "#f0605a"}, "value": "#aaaaaa"}}},
{"data": {"name": "refs"}, "transform": [{"filter": "datum.p=='d' && datum.k=='r'"}], "mark": {"type": "text", "align": "left", "baseline": "middle", "dx": 4, "dy": -1.5, "fontSize": 8.5, "color": "#f07a72"},
 "encoding": {"x": {"datum": 50, "type": "quantitative"}, "y": {"field": "v", "type": "quantitative"}, "text": {"field": "label"}}},
{"data": {"name": "refs"}, "transform": [{"filter": "datum.p=='d' && datum.k=='g'"}], "mark": {"type": "text", "align": "left", "baseline": "middle", "dx": 4, "dy": 1.5, "fontSize": 8.5, "color": "#b0b0b0"},
 "encoding": {"x": {"datum": 50, "type": "quantitative"}, "y": {"field": "v", "type": "quantitative"}, "text": {"field": "label"}}},
{"data": {"name": "zoom"}, "transform": [{"filter": "datum.p=='d'"}], "mark": {"type": "rect", "fillOpacity": 0, "stroke": "#ff0000", "strokeOpacity": 0.7, "strokeWidth": 1},
 "encoding": {"x": {"field": "x0", "type": "quantitative"}, "x2": {"field": "x1"}, "y": {"field": "y0", "type": "quantitative"}, "y2": {"field": "y1"}}},
{"data": {"name": "conn"}, "transform": [{"filter": "datum.p=='d'"}], "mark": {"type": "rule", "stroke": "#ff0000", "strokeWidth": 1},
 "encoding": {"x": {"field": "x", "type": "quantitative"}, "y": {"field": "y", "type": "quantitative"}, "x2": {"field": "x2"}, "y2": {"field": "y2"}}}
]},
{"data": {"name": "zoom"}, "transform": [{"filter": "datum.p=='d'"}], "mark": {"type": "point", "opacity": 0},
 "encoding": {"x": {"field": "x0", "type": "quantitative", "scale": {"domain": [1, 50], "nice": false, "zero": false}, "axis": {"orient": "bottom", "values": [2,4,6,8,12,14,16,18,22,24,26,28,32,34,36,38,42,44,46,48], "tickSize": -2, "title": null}},
  "y": {"field": "y0", "type": "quantitative", "scale": {"domain": [0, 1], "nice": false, "zero": false}, "axis": {"orient": "left", "values": [0.05,0.1,0.15,0.25,0.3,0.35,0.45,0.5,0.55,0.65,0.7,0.75,0.85,0.9,0.95], "tickSize": -2, "title": null}}}},
{"data": {"name": "zoom"}, "transform": [{"filter": "datum.p=='d'"}], "mark": {"type": "point", "opacity": 0},
 "encoding": {"x": {"field": "x0", "type": "quantitative", "scale": {"domain": [1, 50], "nice": false, "zero": false}, "axis": {"orient": "top", "values": [10,20,30,40,50], "tickSize": -4, "title": null}},
  "y": {"field": "y0", "type": "quantitative", "scale": {"domain": [0, 1], "nice": false, "zero": false}, "axis": {"orient": "right", "values": [0,0.2,0.4,0.6,0.8,1], "tickSize": -4, "title": null}}}},
{"data": {"name": "zoom"}, "transform": [{"filter": "datum.p=='d'"}], "mark": {"type": "point", "opacity": 0},
 "encoding": {"x": {"field": "x0", "type": "quantitative", "scale": {"domain": [1, 50], "nice": false, "zero": false}, "axis": {"orient": "top", "values": [2,4,6,8,12,14,16,18,22,24,26,28,32,34,36,38,42,44,46,48], "tickSize": -2, "title": null}},
  "y": {"field": "y0", "type": "quantitative", "scale": {"domain": [0, 1], "nice": false, "zero": false}, "axis": {"orient": "right", "values": [0.05,0.1,0.15,0.25,0.3,0.35,0.45,0.5,0.55,0.65,0.7,0.75,0.85,0.9,0.95], "tickSize": -2, "title": null}}}},
{"layer": [
{"data": {"name": "zoom"}, "transform": [{"filter": "datum.p=='d'"}], "mark": {"type": "rect", "fill": "white", "stroke": "black", "strokeWidth": 1},
 "encoding": {"x": {"field": "x0", "type": "quantitative", "scale": {"domain": [1, 15], "range": [172, 268], "nice": false, "zero": false}, "axis": {"orient": "bottom", "offset": -49, "values": [5, 10, 15], "format": "d", "tickSize": -4, "labels": true, "labelPadding": 12, "title": null}},
  "x2": {"field": "x1"},
  "y": {"field": "y0", "type": "quantitative", "scale": {"domain": [0.9, 0.99], "range": [177, 109], "nice": false, "zero": false}, "axis": {"orient": "left", "offset": -172, "values": [0.9, 0.95], "format": ".2f", "tickSize": -4, "labels": true, "labelPadding": 12, "title": null}},
  "y2": {"field": "y1"}}},
{"data": {"name": "refs"}, "transform": [{"filter": "datum.p=='d'"}], "mark": {"type": "rule", "strokeWidth": 1.5, "strokeDash": [1.5, 3]},
 "encoding": {"x": {"datum": 1, "type": "quantitative"}, "x2": {"datum": 15}, "y": {"field": "v", "type": "quantitative"}, "color": {"condition": {"test": "datum.k=='r'", "value": "#f0605a"}, "value": "#aaaaaa"}}},
{"data": {"name": "lines"}, "transform": [{"filter": "datum.p=='d'"}, {"fold": ["b", "g", "r"], "as": ["s", "v"]}, {"filter": "datum.x>=1 && datum.x<=15 && datum.v>=0.9 && datum.v<=0.99"}],
 "mark": {"type": "line", "strokeWidth": 1.8},
 "encoding": {"x": {"field": "x", "type": "quantitative"}, "y": {"field": "v", "type": "quantitative"},
  "color": {"field": "s", "type": "nominal", "legend": null}, "strokeDash": {"field": "s", "type": "nominal", "legend": null}}}
]},
{"data": {"name": "zoom"}, "transform": [{"filter": "datum.p=='d'"}], "mark": {"type": "point", "opacity": 0},
 "encoding": {"x": {"field": "x0", "type": "quantitative", "scale": {"domain": [1, 15], "range": [172, 268], "nice": false, "zero": false}, "axis": {"orient": "bottom", "offset": -49, "values": [2,3,4,6,7,8,9,11,12,13,14], "tickSize": -2, "title": null}},
  "y": {"field": "y0", "type": "quantitative", "scale": {"domain": [0.9, 0.99], "range": [177, 109], "nice": false, "zero": false}, "axis": {"orient": "left", "offset": -172, "values": [0.91,0.92,0.93,0.94,0.96,0.97,0.98], "tickSize": -2, "title": null}}}},
{"data": {"name": "zoom"}, "transform": [{"filter": "datum.p=='d'"}], "mark": {"type": "point", "opacity": 0},
 "encoding": {"x": {"field": "x0", "type": "quantitative", "scale": {"domain": [1, 15], "range": [172, 268], "nice": false, "zero": false}, "axis": {"orient": "top", "offset": -109, "values": [5,10,15], "tickSize": -4, "title": null}},
  "y": {"field": "y0", "type": "quantitative", "scale": {"domain": [0.9, 0.99], "range": [177, 109], "nice": false, "zero": false}, "axis": {"orient": "right", "offset": -50, "values": [0.9,0.95], "tickSize": -4, "title": null}}}},
{"data": {"name": "zoom"}, "transform": [{"filter": "datum.p=='d'"}], "mark": {"type": "point", "opacity": 0},
 "encoding": {"x": {"field": "x0", "type": "quantitative", "scale": {"domain": [1, 15], "range": [172, 268], "nice": false, "zero": false}, "axis": {"orient": "top", "offset": -109, "values": [2,3,4,6,7,8,9,11,12,13,14], "tickSize": -2, "title": null}},
  "y": {"field": "y0", "type": "quantitative", "scale": {"domain": [0.9, 0.99], "range": [177, 109], "nice": false, "zero": false}, "axis": {"orient": "right", "offset": -50, "values": [0.91,0.92,0.93,0.94,0.96,0.97,0.98], "tickSize": -2, "title": null}}}}
]
}
],
"config": {
"font": "Liberation Serif",
"view": {"stroke": "black", "strokeWidth": 1},
"axis": {"grid": false, "domain": false, "labels": false, "ticks": true, "tickColor": "black", "tickWidth": 1, "labelFont": "Liberation Serif", "labelFontSize": 16, "labelColor": "black", "labelFlush": false, "labelOverlap": false, "titleFont": "Liberation Serif", "titleFontSize": 16, "titleFontWeight": "normal", "titleColor": "black", "zindex": 1},
"title": {"font": "Liberation Serif", "fontSize": 17, "fontWeight": "normal", "offset": 2, "color": "black"}
}
}
